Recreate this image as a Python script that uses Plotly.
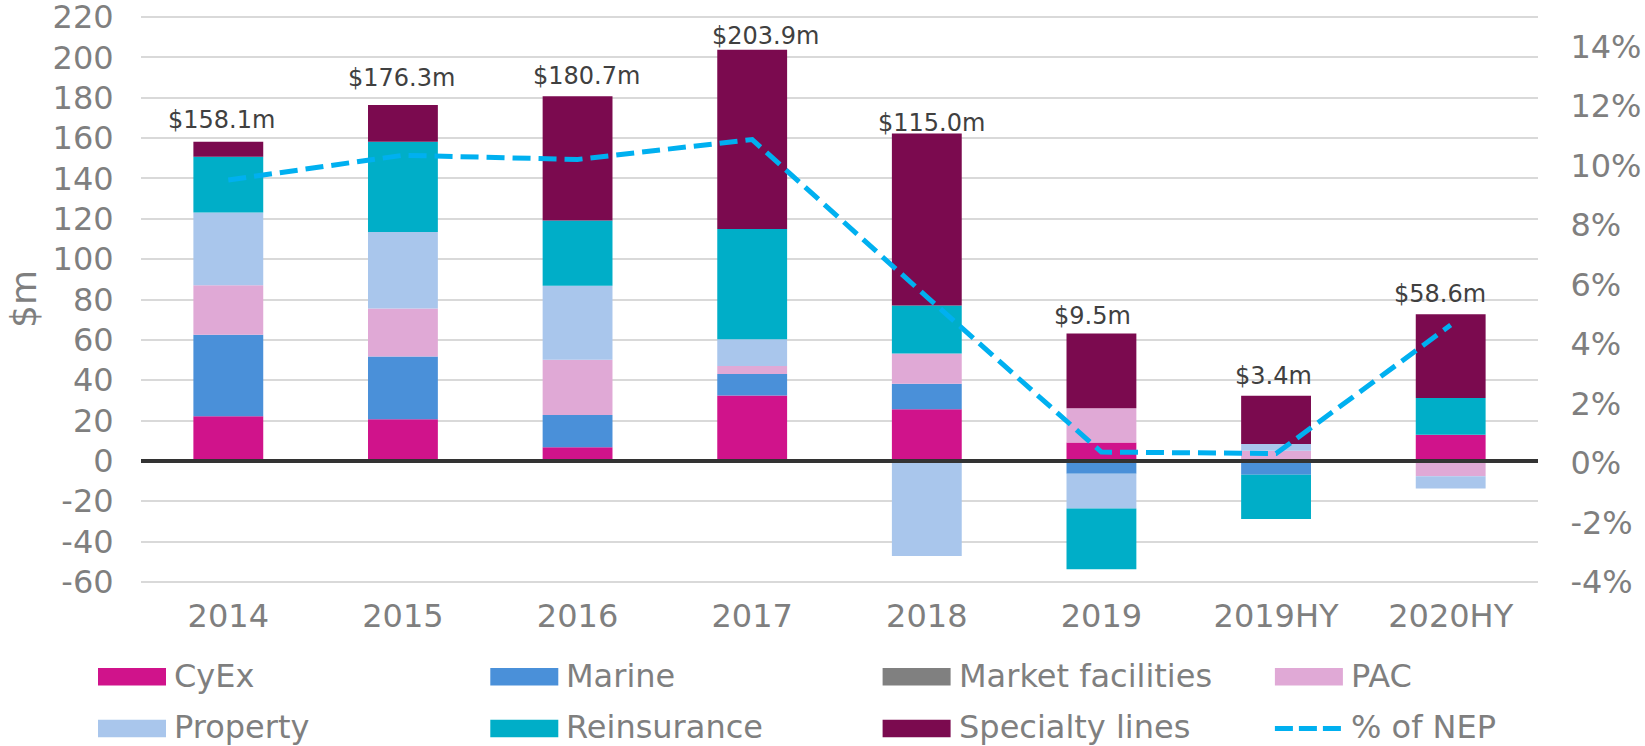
import plotly.graph_objects as go

categories = ["2014", "2015", "2016", "2017", "2018", "2019", "2019HY", "2020HY"]

cyex = [22.1, 20.7, 6.8, 32.4, 25.6, 9.1, 0.0, 13.0]
marine = [40.4, 31.0, 16.0, 10.7, 12.7, -6.4, -6.9, 0.0]
market_facilities = [0.0, 0.0, 0.0, 0.0, 0.0, 0.0, 0.0, 0.0]
pac = [24.6, 23.8, 27.3, 4.0, 14.9, 17.0, 5.1, -7.6]
property_ = [36.0, 37.9, 36.7, 13.2, -47.1, -17.2, 3.3, -6.1]
reinsurance = [27.6, 44.8, 32.4, 54.7, 23.8, -30.1, -21.9, 18.2]
specialty = [7.5, 18.2, 61.5, 88.8, 85.3, 37.0, 23.9, 41.5]
pct_nep = [9.52, 10.35, 10.21, 10.88, 5.59, 0.37, 0.32, 4.64]
totals = [158.1, 176.3, 180.7, 203.9, 115.0, 9.5, 3.4, 58.6]

left_ticks = [-60, -40, -20, 0, 20, 40, 60, 80, 100, 120, 140, 160, 180, 200, 220]
left_ticktext = ["-60", "-40", "-20", "0", "20", "40", "60", "80", "100", "120",
                 "140", "160", "180", "200", "220"]
right_ticks = [-4, -2, 0, 2, 4, 6, 8, 10, 12, 14]
right_ticktext = ["-4%", "-2%", "0%", "2%", "4%", "6%", "8%", "10%", "12%", "14%"]

series_names = ["CyEx", "Marine", "Market facilities", "PAC", "Property",
                "Reinsurance", "Specialty lines"]
series_values = [cyex, marine, market_facilities, pac, property_, reinsurance, specialty]
series_colors = ["#D0138B", "#4A90D9", "#808080", "#E0A9D6", "#A9C6EC",
                 "#00AEC8", "#7B0A4F"]
line_name = "% of NEP"
line_color = "#00B0F0"

# label placement tweaks (pixels) to follow the hand-placed labels in the reference
label_dx = [-7, -1, 9, 13, 5, -9, -3, -11]
label_dy = [6, 11, 4, -2, -6, 2, 4, 4]

FONT = "DejaVu Sans"
W, H = 1645, 746
TICK_FS = 32

# pixel geometry of the plotting area
PLOT_LEFT, PLOT_RIGHT = 141, 1538
Y_LO, Y_HI = -60, 220          # left axis visible tick span
PY_LO, PY_HI = 582.3, 17.3     # pixel rows of those ticks
PAD = 1.0                      # small range padding so the edge ticks/grids show
ppu = (PY_LO - PY_HI) / (Y_HI - Y_LO)
plot_top = PY_HI - PAD * ppu
plot_bot = PY_LO + PAD * ppu
ML, MR = PLOT_LEFT, W - PLOT_RIGHT
MT, MB = plot_top, H - plot_bot
PW = W - ML - MR
PH = H - MT - MB

R_LO, R_HI = -4, 15            # right axis span aligned to same pixel rows
rppu = (PY_LO - PY_HI) / (R_HI - R_LO)
r_pad = PAD * ppu / rppu

fig = go.Figure()
for name, vals, col in zip(series_names, series_values, series_colors):
    fig.add_trace(go.Bar(x=categories, y=vals, name=name, marker_color=col,
                         marker_line_width=0, showlegend=False))

fig.add_trace(go.Scatter(x=categories, y=pct_nep, name=line_name, mode="lines",
                         yaxis="y2", line=dict(color=line_color, width=5, dash="18px,8px"),
                         showlegend=False))

# total labels above the positive stack (x given as category index)
annotations = []
for i, cat in enumerate(categories):
    top = sum(v[i] for v in series_values if v[i] > 0)
    annotations.append(dict(x=i, y=top, xref="x", yref="y", text=f"${totals[i]:.1f}m",
                            showarrow=False, yanchor="bottom",
                            yshift=label_dy[i], xshift=label_dx[i],
                            font=dict(family=FONT, size=24, color="#404040")))

# y-axis title
annotations.append(dict(x=(23.5 - ML) / PW, y=0.5, xref="paper", yref="paper",
                        text="$m", textangle=-90, showarrow=False,
                        xanchor="center", yanchor="middle",
                        font=dict(family=FONT, size=36, color="#7F7F7F")))

shapes = [dict(type="line", xref="paper", yref="y", x0=0, x1=1, y0=0, y1=0,
               line=dict(color="#333333", width=4), layer="above")]

# custom legend (2 rows x 4 columns)
legend_items = list(zip(series_names, series_colors)) + [(line_name, line_color)]
col_x = 98
col_step = 392.3
row_y = [677, 728.8]
sym_w, sym_h = 68, 17.4
text_gap = 6


def px_to_paper_x(px):
    return (px - ML) / PW


def px_to_paper_y(py):
    return (H - MB - py) / PH


for idx, (name, col) in enumerate(legend_items):
    r, c = divmod(idx, 4)
    x0 = col_x + c * col_step
    yc = row_y[r]
    if name == line_name:
        shapes.append(dict(type="line", xref="paper", yref="paper",
                           x0=px_to_paper_x(x0), x1=px_to_paper_x(x0 + sym_w - 2),
                           y0=px_to_paper_y(yc), y1=px_to_paper_y(yc),
                           line=dict(color=col, width=5, dash="18px,6px")))
    else:
        shapes.append(dict(type="rect", xref="paper", yref="paper",
                           x0=px_to_paper_x(x0), x1=px_to_paper_x(x0 + sym_w),
                           y0=px_to_paper_y(yc + sym_h / 2), y1=px_to_paper_y(yc - sym_h / 2),
                           fillcolor=col, line=dict(width=0)))
    annotations.append(dict(x=px_to_paper_x(x0 + sym_w + text_gap), y=px_to_paper_y(yc - 1),
                            xref="paper", yref="paper", text=name, showarrow=False,
                            xanchor="left", yanchor="middle",
                            font=dict(family=FONT, size=TICK_FS, color="#7F7F7F")))

fig.update_layout(
    width=W, height=H,
    margin=dict(l=ML, r=MR, t=MT, b=MB, autoexpand=False),
    paper_bgcolor="white", plot_bgcolor="white",
    barmode="relative", bargap=0.6,
    font=dict(family=FONT, color="#7F7F7F"),
    xaxis=dict(type="category", categoryorder="array", categoryarray=categories,
               showgrid=False, zeroline=False, showline=False,
               tickfont=dict(family=FONT, size=TICK_FS, color="#7F7F7F"),
               ticks="outside", ticklen=4, tickcolor="rgba(0,0,0,0)"),
    yaxis=dict(range=[Y_LO - PAD, Y_HI + PAD], tickmode="array", tickvals=left_ticks,
               ticktext=left_ticktext, showgrid=True, gridcolor="#D9D9D9",
               gridwidth=2, zeroline=False, showline=False, ticklabeloverflow="allow",
               tickfont=dict(family=FONT, size=TICK_FS, color="#7F7F7F"),
               ticks="outside", ticklen=20, tickcolor="rgba(0,0,0,0)"),
    yaxis2=dict(range=[R_LO - r_pad, R_HI + r_pad], tickmode="array", tickvals=right_ticks,
                ticktext=right_ticktext, overlaying="y", side="right",
                showgrid=False, zeroline=False, showline=False, ticklabeloverflow="allow",
                tickfont=dict(family=FONT, size=TICK_FS, color="#7F7F7F"),
                ticks="outside", ticklen=25, tickcolor="rgba(0,0,0,0)"),
    annotations=annotations,
    shapes=shapes,
    showlegend=False,
)

fig.write_html("out.html", config={"displayModeBar": False},
               post_script="document.body.style.margin='0';")
